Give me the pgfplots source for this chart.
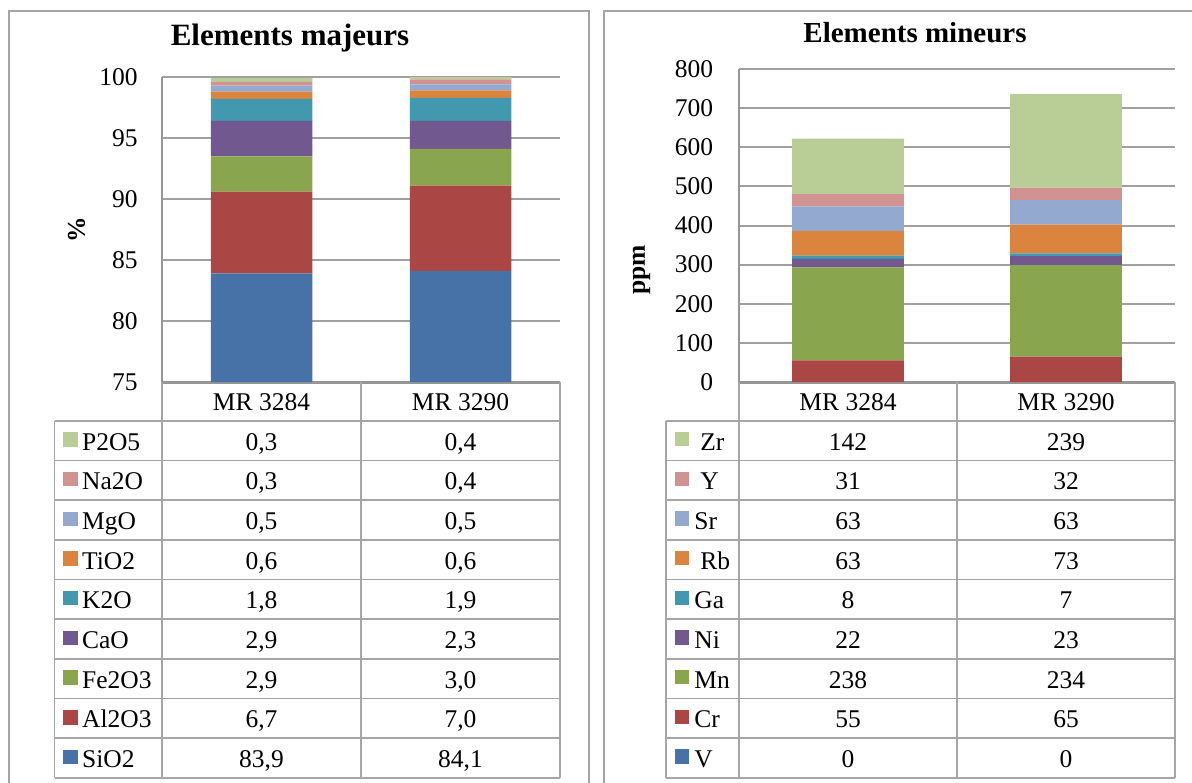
\documentclass[border=0pt]{standalone}
\usepackage{fontspec}
\setmainfont{Liberation Serif}
\usepackage{pgfplots}
\usepackage{pgfplotstable}
\pgfplotsset{compat=1.18}
\pgfkeys{/pgf/number format/assume math mode=true}

\definecolor{cblue}{RGB}{70,114,167}
\definecolor{cred}{RGB}{170,70,67}
\definecolor{cgreen}{RGB}{137,165,78}
\definecolor{cpurple}{RGB}{113,88,143}
\definecolor{cteal}{RGB}{65,152,175}
\definecolor{corange}{RGB}{219,132,61}
\definecolor{clblue}{RGB}{147,169,207}
\definecolor{cpink}{RGB}{209,147,146}
\definecolor{clgreen}{RGB}{185,205,150}
\definecolor{framegray}{RGB}{165,165,165}
\definecolor{gridgray}{RGB}{160,160,160}
\definecolor{axisgray}{RGB}{150,150,150}
\definecolor{tabgray}{RGB}{166,166,166}

\pgfplotstableread{
cat SiO2 Al2O3 Fe2O3 CaO K2O TiO2 MgO Na2O P2O5
0 83.9 6.7 2.9 2.9 1.8 0.6 0.5 0.3 0.3
1 84.1 7.0 3.0 2.3 1.9 0.6 0.5 0.4 0.4
}\majeurs
\pgfplotstableread{
cat V Cr Mn Ni Ga Rb Sr Y Zr
0 0 55 238 22 8 63 63 31 142
1 0 65 234 23 7 73 63 32 239
}\mineurs

\newcommand{\fnt}{\fontsize{12.75}{15}\selectfont}
\newcommand{\getmaj}[2]{\edef\tmp{\noexpand\pgfplotstablegetelem{#1}{#2}\noexpand\of\noexpand\majeurs}\tmp\pgfmathprintnumber[fixed,fixed zerofill,precision=1,use comma]{\pgfplotsretval}}
\newcommand{\getmin}[2]{\edef\tmp{\noexpand\pgfplotstablegetelem{#1}{#2}\noexpand\of\noexpand\mineurs}\tmp\pgfmathprintnumber[fixed,precision=0]{\pgfplotsretval}}

\pgfplotsset{
  mystyle/.style={
    scale only axis,
    ybar stacked,
    xmin=-0.5, xmax=1.5, xtick=\empty,
    axis x line*=bottom, axis y line*=left,
    x axis line style={-, draw=axisgray, line width=1.5pt},
    y axis line style={-, draw=axisgray, line width=1pt},
    major tick length=0pt,
    ymajorgrids, grid style={draw=gridgray, line width=1pt},
    ticklabel style={font=\fnt},
    yticklabel style={anchor=east, inner sep=0pt},
    every axis plot/.append style={draw=none},
  }
}

\begin{document}
\begin{tikzpicture}
\begin{scope}[x=0.5pt,y=-0.5pt]
\useasboundingbox (0,0) rectangle (1192,782);
\draw[framegray, line width=1pt] (9,800) -- (9,11) -- (589,11) -- (589,800);
\draw[framegray, line width=1pt] (604,800) -- (604,11) -- (1210,11);
\end{scope}

\begin{axis}[mystyle,
  at={(81pt,-191pt)}, anchor=south west,
  width=199pt, height=152.5pt,
  bar width=50.75pt,
  ymin=75, ymax=100, ytick={75,80,...,100},
  yticklabel style={xshift=-12pt},
]
\addplot[fill=cblue]    table[x=cat,y=SiO2]{\majeurs};
\addplot[fill=cred]     table[x=cat,y=Al2O3]{\majeurs};
\addplot[fill=cgreen]   table[x=cat,y=Fe2O3]{\majeurs};
\addplot[fill=cpurple]  table[x=cat,y=CaO]{\majeurs};
\addplot[fill=cteal]    table[x=cat,y=K2O]{\majeurs};
\addplot[fill=corange]  table[x=cat,y=TiO2]{\majeurs};
\addplot[fill=clblue]   table[x=cat,y=MgO]{\majeurs};
\addplot[fill=cpink]    table[x=cat,y=Na2O]{\majeurs};
\addplot[fill=clgreen]  table[x=cat,y=P2O5]{\majeurs};
\end{axis}

\begin{axis}[mystyle,
  at={(369.5pt,-191pt)}, anchor=south west,
  width=218pt, height=156.5pt,
  bar width=55.8pt,
  ymin=0, ymax=800, ytick={0,100,...,800},
  yticklabel style={xshift=-12.8pt},
]
\addplot[fill=cblue]    table[x=cat,y=V]{\mineurs};
\addplot[fill=cred]     table[x=cat,y=Cr]{\mineurs};
\addplot[fill=cgreen]   table[x=cat,y=Mn]{\mineurs};
\addplot[fill=cpurple]  table[x=cat,y=Ni]{\mineurs};
\addplot[fill=cteal]    table[x=cat,y=Ga]{\mineurs};
\addplot[fill=corange]  table[x=cat,y=Rb]{\mineurs};
\addplot[fill=clblue]   table[x=cat,y=Sr]{\mineurs};
\addplot[fill=cpink]    table[x=cat,y=Y]{\mineurs};
\addplot[fill=clgreen]  table[x=cat,y=Zr]{\mineurs};
\end{axis}

\begin{scope}[x=0.5pt,y=-0.5pt]
% titles and axis labels
\node[anchor=base, inner sep=0pt, font=\fontsize{15.5}{18}\selectfont\bfseries] at (290,45) {Elements majeurs};
\node[anchor=base, inner sep=0pt, font=\fontsize{14.5}{17}\selectfont\bfseries] at (915,42.3) {Elements mineurs};
\node[rotate=90, inner sep=0pt, font=\fnt\bfseries] at (76.6,230) {\%};
\node[rotate=90, inner sep=0pt, font=\fnt\bfseries] at (641.6,270) {ppm};

% left table
\foreach \x in {162,361,560} \draw[tabgray, line width=0.8pt] (\x,382) -- (\x,777.7);
\draw[tabgray, line width=0.8pt] (54.5,420.7) -- (54.5,777.7);
\foreach \i in {0,...,9} \draw[tabgray, line width=0.8pt] (54.5,{420.7+39.67*\i}) -- (560,{420.7+39.67*\i});
\node[anchor=base, inner sep=0pt, font=\fnt] at (261.5,410.5) {MR 3284};
\node[anchor=base, inner sep=0pt, font=\fnt] at (460.5,410.5) {MR 3290};
\foreach \nm/\col [count=\i from 0] in {P2O5/clgreen,Na2O/cpink,MgO/clblue,TiO2/corange,K2O/cteal,CaO/cpurple,Fe2O3/cgreen,Al2O3/cred,SiO2/cblue}{
  \pgfmathsetmacro\yt{420.7+39.67*\i}
  \fill[\col] (63.3,{\yt+11.6}) rectangle ++(14.5,14.5);
  \node[anchor=base west, inner sep=0pt, font=\fnt] at (81.7,{\yt+29.5}) {\nm};
  \node[anchor=base, inner sep=0pt, font=\fnt] at (261.5,{\yt+29.5}) {\getmaj{0}{\nm}};
  \node[anchor=base, inner sep=0pt, font=\fnt] at (460.5,{\yt+29.5}) {\getmaj{1}{\nm}};
}

% right table
\foreach \x in {739,957,1175} \draw[tabgray, line width=0.8pt] (\x,382) -- (\x,777.7);
\draw[tabgray, line width=0.8pt] (666,420.7) -- (666,777.7);
\foreach \i in {0,...,9} \draw[tabgray, line width=0.8pt] (666,{420.7+39.67*\i}) -- (1175,{420.7+39.67*\i});
\node[anchor=base, inner sep=0pt, font=\fnt] at (848,410.5) {MR 3284};
\node[anchor=base, inner sep=0pt, font=\fnt] at (1066,410.5) {MR 3290};
\foreach \nm/\col/\tx [count=\i from 0] in {Zr/clgreen/700,Y/cpink/700,Sr/clblue/694,Rb/corange/700,Ga/cteal/694,Ni/cpurple/694,Mn/cgreen/694,Cr/cred/694,V/cblue/694}{
  \pgfmathsetmacro\yt{420.7+39.67*\i}
  \fill[\col] (674.5,{\yt+11.2}) rectangle ++(14.5,14.5);
  \node[anchor=base west, inner sep=0pt, font=\fnt] at (\tx,{\yt+29.5}) {\nm};
  \node[anchor=base, inner sep=0pt, font=\fnt] at (848,{\yt+29.5}) {\getmin{0}{\nm}};
  \node[anchor=base, inner sep=0pt, font=\fnt] at (1066,{\yt+29.5}) {\getmin{1}{\nm}};
}
\end{scope}
\end{tikzpicture}
\end{document}
